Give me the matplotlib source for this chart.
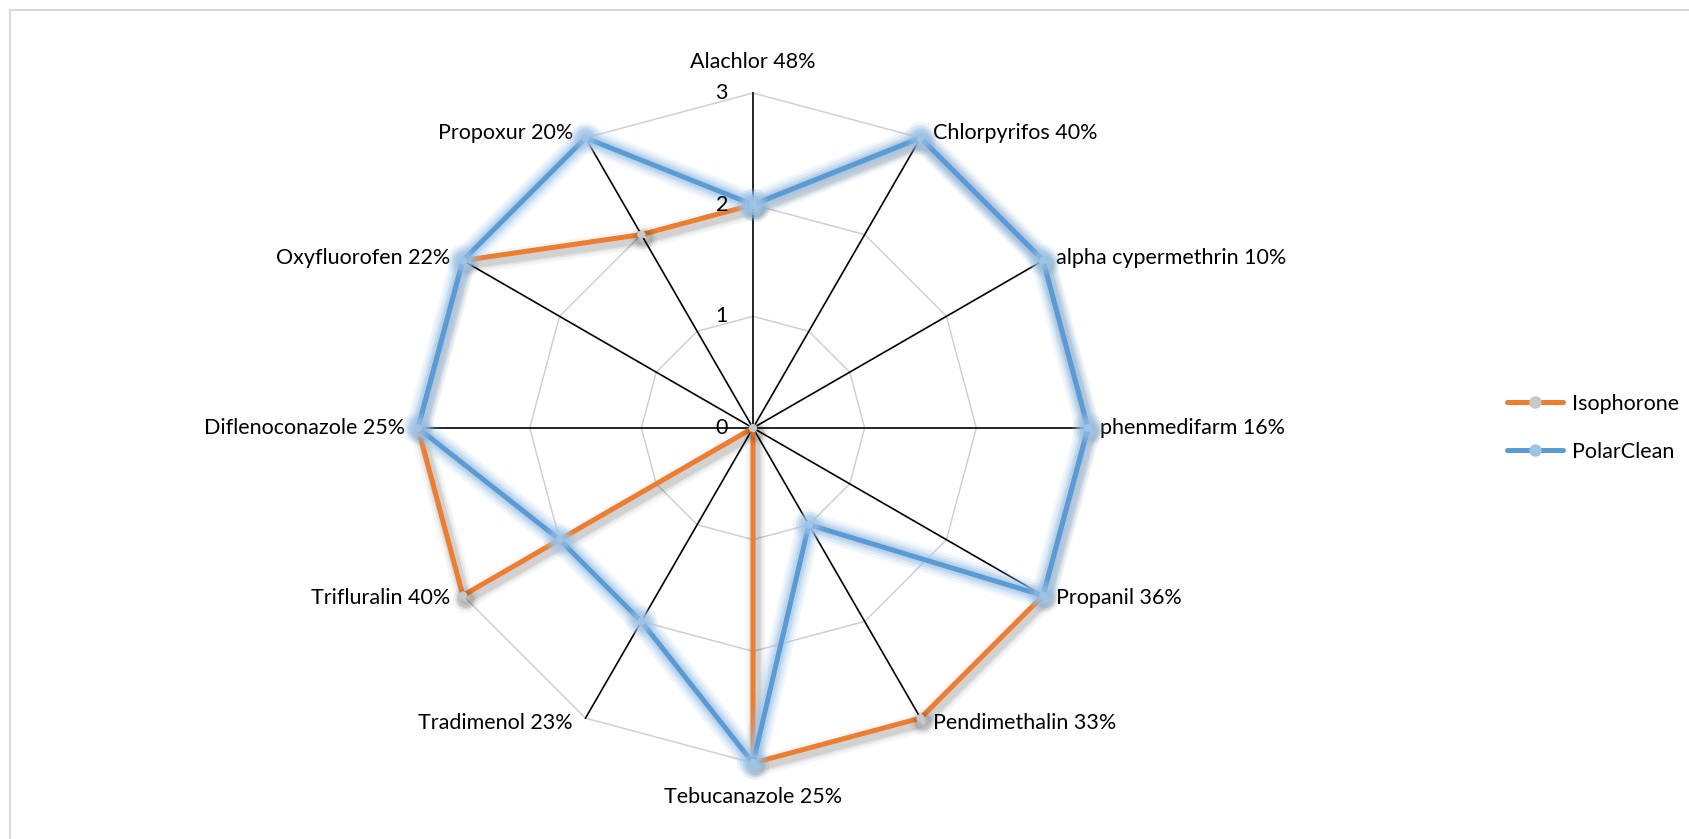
import numpy as np
import matplotlib
matplotlib.use("Agg")
import matplotlib.pyplot as plt
import matplotlib.patheffects as pe
from matplotlib.lines import Line2D

categories = ["Alachlor 48%", "Chlorpyrifos 40%", "alpha cypermethrin 10%",
              "phenmedifarm 16%", "Propanil 36%", "Pendimethalin 33%",
              "Tebucanazole 25%", "Tradimenol 23%", "Trifluralin 40%",
              "Diflenoconazole 25%", "Oxyfluorofen 22%", "Propoxur 20%"]
isophorone = [2, 3, 3, 3, 3, 3, 3, 0, 3, 3, 3, 2]
polarclean = [2, 3, 3, 3, 3, 1, 3, 2, 2, 3, 3, 3]
radial_ticks = [0, 1, 2, 3]
series_names = ["Isophorone", "PolarClean"]

plt.rcParams['font.family'] = ['Lato', 'DejaVu Sans']
FS = 15.5

fig = plt.figure(figsize=(16.9, 8.39), dpi=100)
W, H = 1690, 839
cx, cy, R = 753, 428, 335
ax = fig.add_axes([(cx - R) / W, (H - cy - R) / H, 2 * R / W, 2 * R / H], projection='polar')
ax.set_theta_zero_location('N')
ax.set_theta_direction(-1)
ax.set_ylim(0, 3)
ax.grid(False)
ax.spines['polar'].set_visible(False)
ax.set_xticks([])
ax.set_yticks([])
ax.patch.set_alpha(0)

n = len(categories)
theta = np.arange(n) * 2 * np.pi / n
theta_c = np.append(theta, theta[0])

# polygon grid
for r in radial_ticks[1:]:
    ax.plot(theta_c, [r] * (n + 1), color='#d0d0d0', lw=1.1, zorder=1, clip_on=False)
# spokes
for t in theta:
    ax.plot([t, t], [0, radial_ticks[-1]], color='black', lw=1.2, zorder=2, clip_on=False)

# Isophorone with shadow
iso_c = np.append(isophorone, isophorone[0])
shadow = [pe.SimpleLineShadow(offset=(2, -3), shadow_color='black', alpha=a, linewidth=w)
          for w, a in ((14, 0.04), (10, 0.06), (7, 0.09))] + [pe.Normal()]
ax.plot(theta_c, iso_c, color='#ed7d31', lw=3.6, marker='o', markersize=5,
        markerfacecolor='#c8c8c8', markeredgecolor='#c8c8c8', zorder=4,
        clip_on=False, path_effects=shadow, solid_joinstyle='round')

# PolarClean with glow
pc_c = np.append(polarclean, polarclean[0])
glow = [pe.Stroke(linewidth=w, foreground='#9dc3e6', alpha=a)
        for w, a in ((18, 0.15), (14, 0.2), (10, 0.3), (7, 0.4))] + [pe.Normal()]
ax.plot(theta_c, pc_c, color='#5b9bd5', lw=3.6, marker='o', markersize=5,
        markerfacecolor='#9dc3e6', markeredgecolor='#9dc3e6', zorder=5,
        clip_on=False, path_effects=glow, solid_joinstyle='round')

# radial tick labels (drawn on top)
for r in radial_ticks:
    ax.annotate(str(r), xy=(0, r), xytext=(-18, 0), textcoords='offset points',
                ha='right', va='center', fontsize=FS, color='black', zorder=6)

# category labels
for t, lab in zip(theta, categories):
    s, c = np.sin(t), np.cos(t)
    if abs(s) < 0.1:
        ha = 'center'
        va = 'bottom' if c > 0 else 'top'
        dx, dy = 0, (15 if c > 0 else -17)
    else:
        ha = 'left' if s > 0 else 'right'
        va = 'center'
        dx = 9 if s > 0 else -9
        dy = 4 * c
    ax.annotate(lab, xy=(t, 3), xytext=(dx, dy), textcoords='offset points',
                ha=ha, va=va, fontsize=FS, color='black', annotation_clip=False)

# legend
handles = [Line2D([], [], color='#ed7d31', lw=3.6, marker='o', markersize=8,
                  markerfacecolor='#c8c8c8', markeredgecolor='#c8c8c8',
                  solid_capstyle='round'),
           Line2D([], [], color='#5b9bd5', lw=3.6, marker='o', markersize=8,
                  markerfacecolor='#9dc3e6', markeredgecolor='#9dc3e6',
                  solid_capstyle='round')]
fig.legend(handles, series_names, loc='center left', bbox_to_anchor=(1488 / W, 1 - 428 / H),
           frameon=False, fontsize=FS, handlelength=2.6, handletextpad=0.4,
           labelspacing=1.3, numpoints=1)

# chart border (top and left)
fig.add_artist(Line2D([10 / W, 1], [1 - 10 / H, 1 - 10 / H], color='#d9d9d9', lw=1.5))
fig.add_artist(Line2D([10 / W, 10 / W], [0, 1 - 10 / H], color='#d9d9d9', lw=1.5))

fig.savefig('out.png', dpi=100, facecolor='white')
